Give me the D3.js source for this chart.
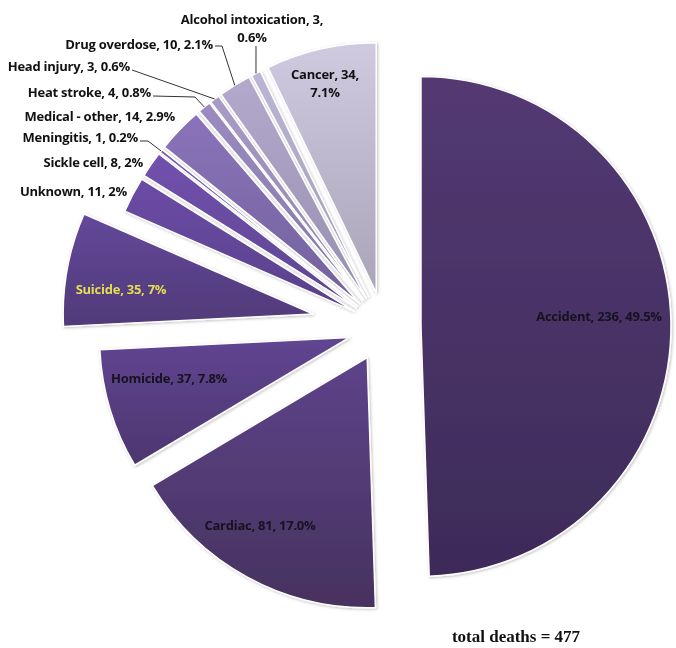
<!DOCTYPE html>
<html>
<head>
<meta charset="utf-8">
<script src="https://cdn.jsdelivr.net/npm/d3@7"></script>
<style>
body{margin:0;background:#fff;}
#canvas{width:676px;height:648px;}
</style>
</head>
<body>
<div id="canvas"></div>
<script>
// data, clockwise from 12 o'clock
var causes = ["Accident","Cardiac","Homicide","Suicide","Unknown","Sickle cell","Meningitis",
	"Medical - other","Heat stroke","Head injury","Drug overdose","Alcohol intoxication","Cancer"];
var deaths = [236,81,37,35,11,8,1,14,4,3,10,3,34];
var pctLabels = ["49.5%","17.0%","7.8%","7%","2%","2%","0.2%","2.9%","0.8%","0.6%","2.1%","0.6%","7.1%"];
var totalLabel = "total deaths = 477";

// styles
var topColors = ["#533972","#5d4389","#614592","#64489b","#6c4ca6","#7251ae","#7a5bb2",
	"#8b73ba","#9b8bc1","#a89bc8","#b3a9cd","#bdb5d5","#d0cae0"];
var botColors = ["#3d2b59","#47325f","#4c366f","#503a78","#58408a","#5d4590","#655095",
	"#72629c","#8478a6","#8f85ab","#978faf","#a19bb5","#aaa4b9"];
var explode = [37,35,36,72,34,34,34,34,34,34,34,34,35];

var width = 676, height = 648;
var cx = 384, cy = 327, radius = 250;

var svg = d3.select("#canvas").append("svg")
	.attr("width",width).attr("height",height);
var defs = svg.append("defs");

var f = defs.append("filter").attr("id","shadow")
	.attr("x","-10%").attr("y","-10%").attr("width","120%").attr("height","120%");
f.append("feDropShadow").attr("dx",1).attr("dy",1).attr("stdDeviation",1.5)
	.attr("flood-color","#000").attr("flood-opacity",0.25);

causes.forEach(function(c,i){
	var g = defs.append("linearGradient").attr("id","grad"+i)
		.attr("x1",0).attr("y1",0).attr("x2",0).attr("y2",1);
	g.append("stop").attr("offset","0%").attr("stop-color",topColors[i]);
	g.append("stop").attr("offset","100%").attr("stop-color",botColors[i]);
});

var pie = d3.pie().sort(null).value(function(d){return d;});
var arcs = pie(deaths);
var arc = d3.arc().innerRadius(0).outerRadius(radius);

var offset = function(d,i){
	var mid = (d.startAngle+d.endAngle)/2;
	return [cx+explode[i]*Math.sin(mid), cy-explode[i]*Math.cos(mid)];
};

var slices = svg.append("g").attr("filter","url(#shadow)");
slices.selectAll("path").data(arcs).enter().append("path")
	.attr("transform",function(d,i){var o=offset(d,i);return "translate("+o[0]+","+o[1]+")";})
	.attr("d",arc)
	.attr("fill",function(d,i){return "url(#grad"+i+")";})
	.attr("stroke","#fff")
	.attr("stroke-width",1.5)
	.attr("stroke-linejoin","round");

// label layout: [x, baseline y, anchor]
var labelPos = [
	[599,321,"middle"],[260,530,"middle"],[169,383,"middle"],[121,294,"middle"],
	[127,196,"end"],[143,167,"end"],[138,142,"end"],[175,121,"end"],
	[151,97,"end"],[130,71,"end"],[213,49,"end"],[252,24,"middle"],[325,79,"middle"]
];
var twoLine = {11:true,12:true};
// leader lines: label-side points, end is the slice's outer mid point
var leaders = {
	6:[[140,141],[148,141]],
	8:[[153,96],[195,97]],
	9:[[132,70]],
	10:[[215,46],[222,46]],
	11:[[256,46]]
};

var labels = svg.append("g");
arcs.forEach(function(d,i){
	var p = labelPos[i];
	var t = labels.append("text")
		.attr("x",p[0]).attr("y",p[1])
		.attr("text-anchor",p[2])
		.style("font-family","'Open Sans',sans-serif")
		.style("font-size","13px")
		.style("font-weight","bold")
		.style("letter-spacing","-0.25px")
		.attr("fill", i==3 ? "#e6dc52" : (i<3 ? "#16121e" : "#111"));
	var line1 = causes[i]+", "+deaths[i]+",";
	if(twoLine[i]){
		t.append("tspan").attr("x",p[0]).text(line1);
		t.append("tspan").attr("x",p[0]).attr("dy","1.4em").text(pctLabels[i]);
	}else{
		t.text(line1+" "+pctLabels[i]);
	}
	if(leaders[i]){
		var o = offset(d,i);
		var mid = (d.startAngle+d.endAngle)/2;
		var pts = leaders[i].concat([[o[0]+radius*Math.sin(mid), o[1]-radius*Math.cos(mid)]]);
		labels.append("path")
			.attr("d",d3.line()(pts))
			.attr("fill","none")
			.attr("stroke","#333")
			.attr("stroke-width",1);
	}
});

svg.append("text")
	.attr("x",516).attr("y",642)
	.attr("text-anchor","middle")
	.style("font-family","'Liberation Serif','DejaVu Serif',serif")
	.style("font-weight","bold")
	.style("font-size","17px")
	.attr("fill","#111")
	.text(totalLabel);
</script>
</body>
</html>
